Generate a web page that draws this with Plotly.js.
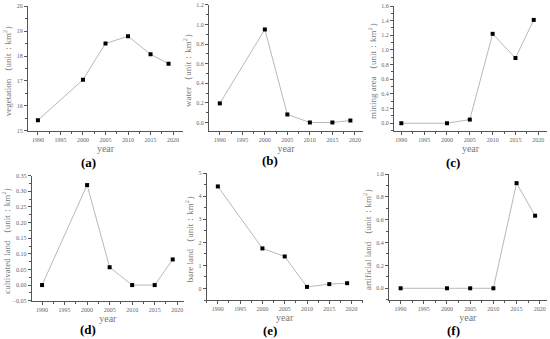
<!DOCTYPE html>
<html>
<head>
<meta charset="utf-8">
<script src="https://cdn.plot.ly/plotly-3.0.1.min.js"></script>
<style>html,body{margin:0;padding:0;background:#fff;}#chart{width:550px;height:339px;}</style>
</head>
<body>
<div id="chart"></div>
<script>
const years = [1990, 2000, 2005, 2010, 2015, 2019];
const vegetation = [15.43, 17.05, 18.5, 18.79, 18.07, 17.69];
const water = [0.195, 0.95, 0.082, 0.0, 0.0, 0.02];
const mining = [0.0, 0.0, 0.05, 1.22, 0.89, 1.41];
const cultivated = [0.0, 0.32, 0.057, 0.0, 0.0, 0.082];
const bare = [4.43, 1.74, 1.39, 0.07, 0.19, 0.23];
const artificial = [0.0, 0.0, 0.0, 0.0, 0.92, 0.635];

const yTitles = ['vegetation （unit：km<sup>2</sup>）', 'water （unit：km<sup>2</sup>）', 'mining area （unit：km<sup>2</sup>）',
                 'cultivated land （unit：km<sup>2</sup>）', 'bare land （unit：km<sup>2</sup>）', 'artificial land （unit：km<sup>2</sup>）'];
const letters = ['(a)', '(b)', '(c)', '(d)', '(e)', '(f)'];
const xTickVals = [1990, 1995, 2000, 2005, 2010, 2015, 2020];

const series = [vegetation, water, mining, cultivated, bare, artificial];
const xDomains = [[0.0509, 0.3327], [0.38, 0.66], [0.7164, 0.9945], [0.0576, 0.3345], [0.3758, 0.6595], [0.7073, 0.994]];
const yDomains = [[0.6136, 0.9823], [0.6127, 0.9853], [0.6127, 0.9823], [0.1130, 0.4817], [0.1150, 0.4888], [0.1159, 0.4867]];
const xRanges = [[1987.8, 2022.2], [1987.6, 2021.8], [1988.4, 2021.9], [1987.7, 2021.5], [1987.5, 2022.5], [1987.5, 2021.5]];
const yRanges = [[15, 20], [-0.09, 1.2], [-0.11, 1.6], [-0.05, 0.35], [-0.5, 5], [-0.1, 1.0]];
const yDticks = [1, 0.2, 0.2, 0.05, 1, 0.2];
const yFormats = ['d', '.1f', '.1f', '.2f', 'd', '.1f'];
const letterPos = [[88, 162], [270, 161], [453, 162], [88, 329], [270, 330], [453, 330]];

const font = "'Liberation Serif', 'Times New Roman', serif";
const data = [];
const layout = {
  width: 550, height: 339,
  margin: {l: 0, r: 0, t: 0, b: 0},
  paper_bgcolor: '#fff', plot_bgcolor: '#fff',
  showlegend: false,
  font: {family: font, color: '#666'},
  annotations: []
};

series.forEach((vals, i) => {
  const n = i === 0 ? '' : String(i + 1);
  data.push({
    x: years, y: vals, type: 'scatter', mode: 'lines+markers',
    xaxis: 'x' + n, yaxis: 'y' + n,
    line: {color: '#b8b8b8', width: 1},
    marker: {symbol: 'square', size: 4, color: '#000'},
    cliponaxis: false
  });
  layout['xaxis' + n] = {
    domain: xDomains[i], range: xRanges[i], anchor: 'y' + n,
    tickmode: 'array', tickvals: xTickVals,
    ticks: 'outside', ticklen: 3, tickcolor: '#555', tickwidth: 1,
    minor: {ticks: 'outside', ticklen: 2, dtick: 2.5, tick0: 1990, tickcolor: '#555'},
    showline: true, linecolor: '#555', linewidth: 1, showgrid: false, zeroline: false,
    tickfont: {size: 6, family: font, color: '#666'},
    title: {text: 'year', font: {size: 10, family: font, color: '#777'}, standoff: 2}
  };
  layout['yaxis' + n] = {
    domain: yDomains[i], range: yRanges[i], anchor: 'x' + n,
    dtick: yDticks[i], tick0: 0, tickformat: yFormats[i],
    ticks: 'outside', ticklen: 3, tickcolor: '#555', tickwidth: 1,
    minor: {ticks: 'outside', ticklen: 2, dtick: yDticks[i] / 2, tick0: 0, tickcolor: '#555'},
    showline: true, linecolor: '#555', linewidth: 1, showgrid: false, zeroline: false,
    tickfont: {size: 6, family: font, color: '#666'},
    title: {text: yTitles[i], font: {size: 9, family: font, color: '#777'}, standoff: 3}
  };
  layout.annotations.push({
    text: '<b>' + letters[i] + '</b>', xref: 'paper', yref: 'paper',
    x: letterPos[i][0] / 550, y: 1 - letterPos[i][1] / 339,
    xanchor: 'center', yanchor: 'middle', showarrow: false,
    font: {size: 13, family: font, color: '#000'}
  });
});

Plotly.newPlot('chart', data, layout, {staticPlot: true});
</script>
</body>
</html>
